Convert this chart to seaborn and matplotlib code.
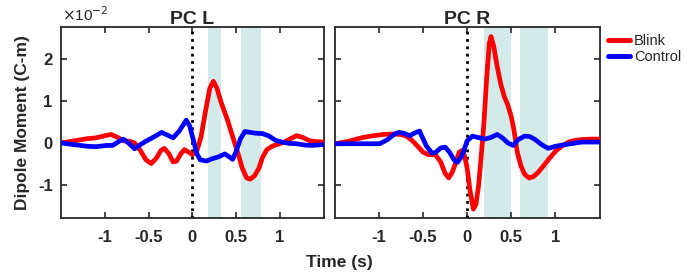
import pandas as pd
import matplotlib.pyplot as plt
import seaborn as sns

# values (time in s, dipole moment in 1e-2 C-m)
t_left_blink = [-1.5, -1.35, -1.2, -1.1, -1.0, -0.93, -0.86, -0.79, -0.72, -0.66, -0.6, -0.53, -0.47,
                -0.41, -0.36, -0.32, -0.27, -0.22, -0.18, -0.13, -0.09, -0.04, 0.0, 0.05, 0.1, 0.15,
                0.2, 0.24, 0.28, 0.33, 0.4, 0.46, 0.52, 0.57, 0.62, 0.66, 0.71, 0.76, 0.8, 0.85,
                0.92, 0.98, 1.05, 1.12, 1.19, 1.26, 1.34, 1.42, 1.5]
v_left_blink = [0.0, 0.05, 0.1, 0.12, 0.17, 0.2, 0.14, 0.05, 0.04, 0.0, -0.16, -0.4, -0.49,
                -0.36, -0.18, -0.13, -0.25, -0.45, -0.43, -0.25, -0.16, -0.22, -0.28, -0.2, 0.15, 0.75,
                1.3, 1.46, 1.3, 0.95, 0.55, 0.15, -0.24, -0.6, -0.83, -0.86, -0.78, -0.6, -0.35, -0.16,
                -0.07, -0.03, 0.02, 0.1, 0.17, 0.13, 0.05, 0.03, 0.02]
t_left_ctrl = [-1.5, -1.36, -1.2, -1.1, -0.98, -0.91, -0.85, -0.79, -0.73, -0.66, -0.6, -0.53, -0.45,
               -0.35, -0.28, -0.22, -0.15, -0.07, -0.03, 0.01, 0.05, 0.09, 0.16, 0.22, 0.3, 0.37,
               0.42, 0.46, 0.5, 0.55, 0.6, 0.66, 0.72, 0.8, 0.87, 0.95, 1.02, 1.1, 1.19, 1.28,
               1.36, 1.5]
v_left_ctrl = [0.0, -0.04, -0.08, -0.09, -0.06, -0.06, 0.02, 0.09, 0.0, -0.14, -0.05, 0.04, 0.13,
               0.25, 0.18, 0.12, 0.28, 0.54, 0.4, 0.08, -0.25, -0.4, -0.43, -0.38, -0.33, -0.26,
               -0.33, -0.39, -0.2, 0.1, 0.27, 0.25, 0.23, 0.22, 0.17, 0.06, 0.02, -0.01, -0.02, -0.05,
               -0.06, -0.04]

t_right_blink = [-1.5, -1.34, -1.2, -1.1, -0.95, -0.85, -0.75, -0.69, -0.63, -0.57, -0.5, -0.44,
                 -0.36, -0.3, -0.25, -0.21, -0.17, -0.13, -0.09, -0.06, -0.03, 0.0, 0.03, 0.07, 0.1,
                 0.13, 0.16, 0.19, 0.22, 0.25, 0.27, 0.3, 0.34, 0.38, 0.42, 0.46, 0.5, 0.53, 0.57,
                 0.61, 0.65, 0.7, 0.75, 0.8, 0.87, 0.93, 1.0, 1.07, 1.15, 1.22, 1.3, 1.4, 1.5]
v_right_blink = [-0.02, 0.04, 0.12, 0.16, 0.2, 0.21, 0.2, 0.16, 0.07, -0.06, -0.22, -0.28,
                 -0.28, -0.45, -0.72, -0.83, -0.7, -0.47, -0.22, -0.18, -0.3, -0.6, -1.1, -1.57, -1.45,
                 -1.0, -0.3, 0.47, 1.5, 2.35, 2.52, 2.3, 1.81, 1.4, 1.1, 0.9, 0.62, 0.3, -0.24,
                 -0.55, -0.74, -0.83, -0.8, -0.71, -0.53, -0.37, -0.2, -0.08, 0.02, 0.06, 0.08, 0.09, 0.09]
t_right_ctrl = [-1.5, -1.2, -0.99, -0.9, -0.83, -0.78, -0.72, -0.65, -0.59, -0.54, -0.5, -0.46,
                -0.4, -0.36, -0.3, -0.25, -0.2, -0.15, -0.11, -0.06, 0.0, 0.06, 0.12, 0.2, 0.27,
                0.34, 0.4, 0.46, 0.52, 0.58, 0.65, 0.71, 0.77, 0.85, 0.92, 1.0, 1.11, 1.3, 1.5]
v_right_ctrl = [-0.02, -0.02, -0.02, 0.08, 0.2, 0.25, 0.23, 0.17, 0.24, 0.28, 0.1, -0.08,
                -0.24, -0.23, -0.12, -0.1, -0.22, -0.4, -0.46, -0.31, 0.05, 0.16, 0.13, 0.09, 0.13,
                0.2, 0.12, 0.0, -0.06, 0.08, 0.16, 0.15, 0.08, -0.05, -0.13, -0.08, -0.04, 0.02, 0.02]

bands_left = [(0.175, 0.33), (0.56, 0.785)]
bands_right = [(0.19, 0.5), (0.6, 0.92)]

frames = []
for panel, cond, t, v in [("PC L", "Blink", t_left_blink, v_left_blink),
                          ("PC L", "Control", t_left_ctrl, v_left_ctrl),
                          ("PC R", "Blink", t_right_blink, v_right_blink),
                          ("PC R", "Control", t_right_ctrl, v_right_ctrl)]:
    frames.append(pd.DataFrame({"panel": panel, "cond": cond, "time": t, "moment": v}))
df = pd.concat(frames, ignore_index=True)

sns.set_theme(style="ticks")
plt.rcParams['font.family'] = ['Liberation Sans', 'DejaVu Sans']
plt.rcParams['xtick.direction'] = 'in'
plt.rcParams['ytick.direction'] = 'in'

fig = plt.figure(figsize=(6.86, 2.77), dpi=100)
ax1 = fig.add_axes([0.0889, 0.213, 0.383, 0.69])
ax2 = fig.add_axes([0.488, 0.213, 0.386, 0.69])

palette = {"Blink": "#ff0000", "Control": "#0000ff"}
for ax, name, bands in [(ax1, "PC L", bands_left), (ax2, "PC R", bands_right)]:
    for a, b in bands:
        ax.axvspan(a, b, color="#d4eaea", lw=0, zorder=0)
    ax.axvline(0, color="black", ls=":", lw=2, zorder=1)
    sns.lineplot(data=df[df.panel == name], x="time", y="moment", hue="cond",
                 palette=palette, lw=3.4, ax=ax, legend=(ax is ax2), zorder=3)
    ax.set_xlim(-1.5, 1.5)
    ax.set_ylim(-1.78, 2.75)
    ax.set_xticks([-1, -0.5, 0, 0.5, 1])
    ax.set_xticklabels(["-1", "-0.5", "0", "0.5", "1"])
    ax.set_yticks([-1, 0, 1, 2])
    ax.tick_params(top=True, right=True, length=4, width=1.2, labelsize=12)
    ax.tick_params(axis="x", pad=9)
    ax.tick_params(axis="y", pad=6)
    for lbl in ax.get_xticklabels() + ax.get_yticklabels():
        lbl.set_fontweight("bold")
    for s in ax.spines.values():
        s.set_linewidth(1.3)
    ax.set_title(name, fontsize=14, fontweight="bold", pad=2)
    ax.set_xlabel("")
    ax.set_ylabel("")

ax1.set_yticklabels(["-1", "0", "1", "2"])
ax2.set_yticklabels([])
ax1.set_ylabel("Dipole Moment (C-m)", fontsize=12.5, fontweight="bold", labelpad=6)
fig.text(0.495, 0.054, "Time (s)", fontsize=12.5, fontweight="bold", ha="center", va="center")
fig.text(0.09, 0.925, r"$\times$10$^{-2}$", fontsize=11)

leg = ax2.legend(loc="upper left", bbox_to_anchor=(1.02, 0.98), frameon=False,
                 fontsize=10.5, handlelength=1.5, handletextpad=0.3, labelspacing=0.15,
                 borderaxespad=0.1, borderpad=0.1)
for h in leg.get_lines():
    h.set_linewidth(3.5)

plt.savefig("out.png", dpi=100)
